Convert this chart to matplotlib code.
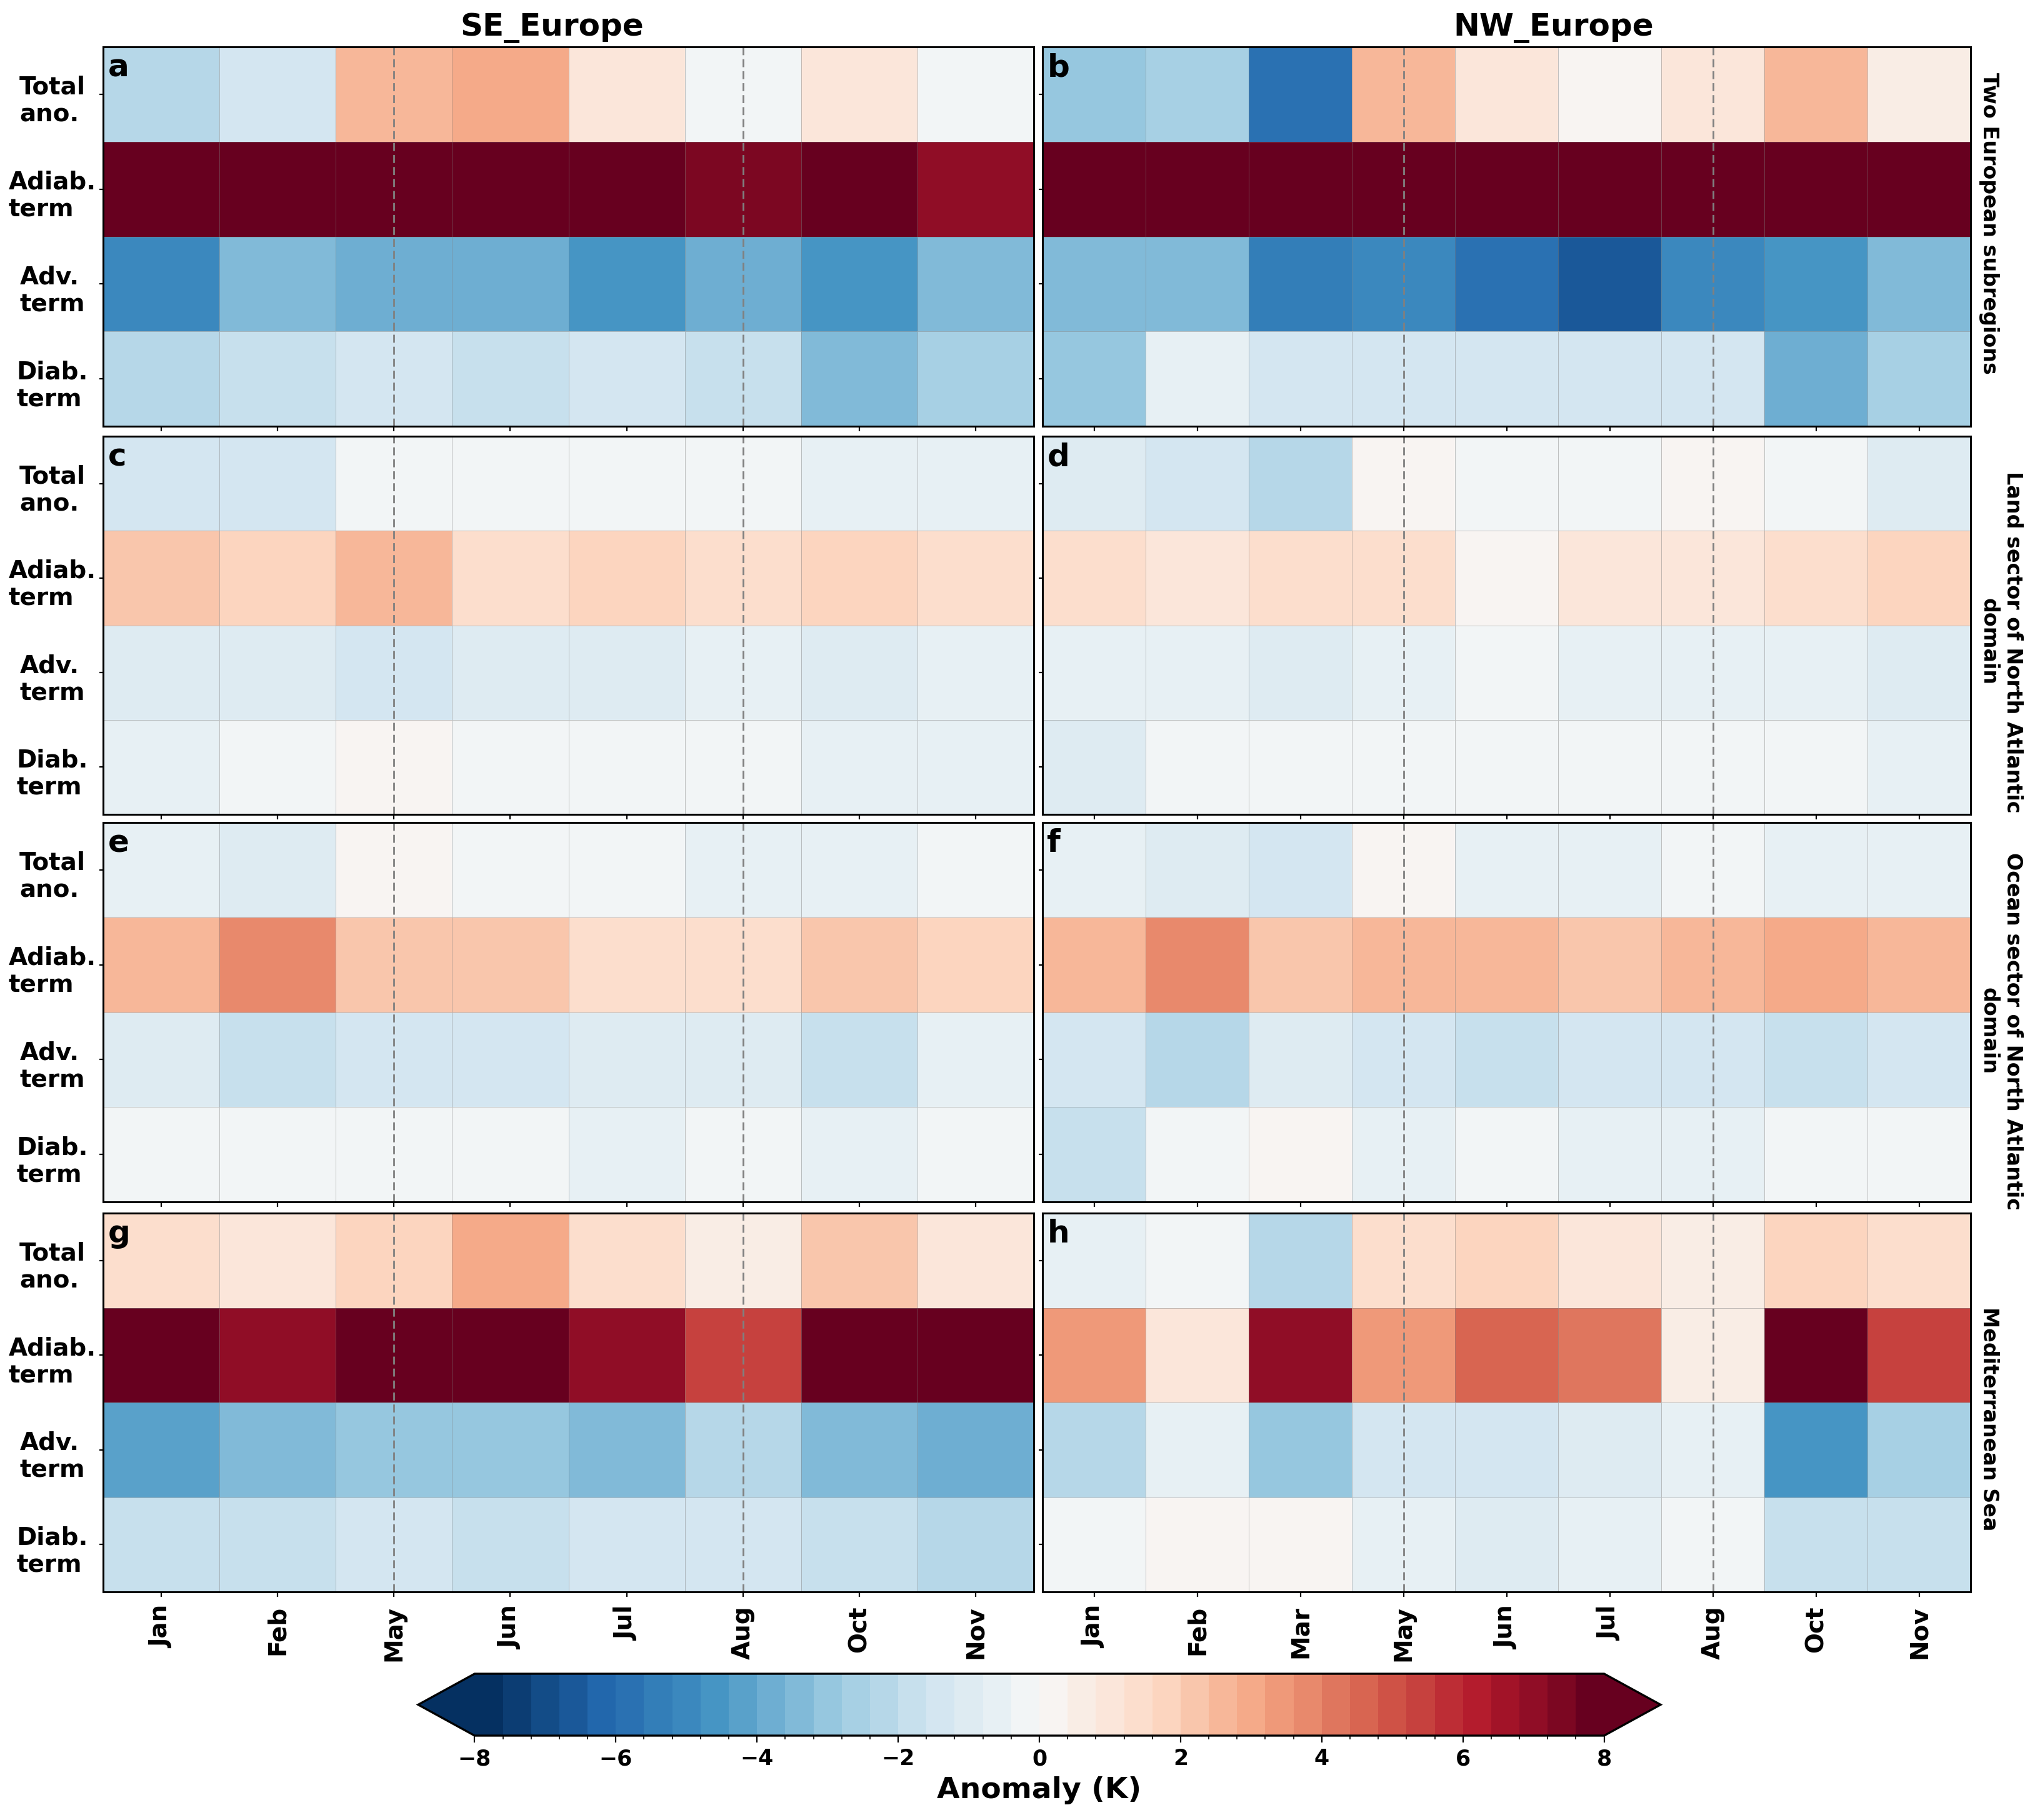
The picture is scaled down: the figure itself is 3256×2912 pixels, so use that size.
import numpy as np
import matplotlib
matplotlib.use("Agg")
import matplotlib.pyplot as plt
import matplotlib.transforms as mtransforms
from matplotlib.colors import BoundaryNorm

# ---------------- data ----------------
se_months = ["Jan", "Feb", "May", "Jun", "Jul", "Aug", "Oct", "Nov"]
nw_months = ["Jan", "Feb", "Mar", "May", "Jun", "Jul", "Aug", "Oct", "Nov"]
row_labels = ["Total\nano.", "Adiab.\nterm", "Adv.\nterm", "Diab.\nterm"]
region_titles = ["SE_Europe", "NW_Europe"]
domain_labels = ["Two European subregions",
                 "Land sector of North Atlantic\ndomain",
                 "Ocean sector of North Atlantic\ndomain",
                 "Mediterranean Sea"]
panel_letters = ["a", "b", "c", "d", "e", "f", "g", "h"]
highlight_months = ["May", "Aug"]
cbar_ticks = [-8, -6, -4, -2, 0, 2, 4, 6, 8]

# (a) SE_Europe, Two European subregions
total_a = [-2.2, -1.4, 2.6, 3.0, 1.0, -0.2, 1.0, -0.2]
adiab_a = [9.0, 9.0, 9.0, 9.0, 9.0, 7.4, 9.0, 7.0]
adv_a = [-5.0, -3.4, -3.8, -3.8, -4.6, -3.8, -4.6, -3.4]
diab_a = [-2.2, -1.8, -1.4, -1.8, -1.4, -1.8, -3.4, -2.6]
# (b) NW_Europe, Two European subregions
total_b = [-3.0, -2.6, -5.9, 2.6, 1.0, 0.2, 1.0, 2.6, 0.6]
adiab_b = [9.0, 9.0, 9.0, 9.0, 9.0, 9.0, 9.0, 9.0, 9.0]
adv_b = [-3.4, -3.4, -5.4, -5.0, -5.8, -6.6, -5.0, -4.6, -3.4]
diab_b = [-3.0, -0.6, -1.4, -1.4, -1.4, -1.4, -1.4, -3.8, -2.6]
# (c) SE_Europe, Land sector
total_c = [-1.4, -1.4, -0.2, -0.2, -0.2, -0.2, -0.6, -0.6]
adiab_c = [2.2, 1.8, 2.6, 1.4, 1.8, 1.4, 1.8, 1.4]
adv_c = [-1.0, -1.0, -1.4, -1.0, -1.0, -0.6, -1.0, -0.6]
diab_c = [-0.6, -0.2, 0.2, -0.2, -0.2, -0.2, -0.6, -0.6]
# (d) NW_Europe, Land sector
total_d = [-1.0, -1.4, -2.2, 0.2, -0.2, -0.2, 0.2, -0.2, -1.0]
adiab_d = [1.4, 1.0, 1.4, 1.4, 0.2, 1.0, 1.0, 1.4, 1.8]
adv_d = [-0.6, -0.6, -1.0, -0.6, -0.2, -0.6, -0.6, -0.6, -1.0]
diab_d = [-1.0, -0.2, -0.2, -0.2, -0.2, -0.2, -0.2, -0.2, -0.6]
# (e) SE_Europe, Ocean sector
total_e = [-0.6, -1.0, 0.2, -0.2, -0.2, -0.6, -0.6, -0.2]
adiab_e = [2.6, 3.8, 2.2, 2.2, 1.4, 1.4, 2.2, 1.8]
adv_e = [-1.0, -1.8, -1.4, -1.4, -1.0, -1.0, -1.8, -0.6]
diab_e = [-0.2, -0.2, -0.2, -0.2, -0.6, -0.2, -0.6, -0.2]
# (f) NW_Europe, Ocean sector
total_f = [-0.6, -1.0, -1.4, 0.2, -0.6, -0.6, -0.2, -0.6, -0.6]
adiab_f = [2.6, 3.8, 2.2, 2.6, 2.6, 2.2, 2.6, 3.0, 2.6]
adv_f = [-1.4, -2.2, -1.0, -1.4, -1.8, -1.4, -1.4, -1.8, -1.4]
diab_f = [-1.8, -0.2, 0.2, -0.6, -0.2, -0.6, -0.6, -0.2, -0.2]
# (g) SE_Europe, Mediterranean Sea
total_g = [1.4, 1.0, 1.8, 3.0, 1.4, 0.6, 2.2, 1.0]
adiab_g = [9.0, 7.0, 9.0, 9.0, 7.0, 5.4, 9.0, 9.0]
adv_g = [-4.2, -3.4, -3.0, -3.0, -3.4, -2.2, -3.4, -3.8]
diab_g = [-1.8, -1.8, -1.4, -1.8, -1.4, -1.4, -1.8, -2.2]
# (h) NW_Europe, Mediterranean Sea
total_h = [-0.6, -0.2, -2.2, 1.4, 1.8, 1.0, 0.6, 1.8, 1.4]
adiab_h = [3.4, 1.0, 7.0, 3.4, 4.6, 4.2, 0.6, 9.0, 5.4]
adv_h = [-2.2, -0.6, -3.0, -1.4, -1.4, -1.0, -0.6, -4.6, -2.6]
diab_h = [-0.2, 0.2, 0.2, -0.6, -1.0, -0.6, -0.2, -1.8, -1.8]

panels = [
    [total_a, adiab_a, adv_a, diab_a], [total_b, adiab_b, adv_b, diab_b],
    [total_c, adiab_c, adv_c, diab_c], [total_d, adiab_d, adv_d, diab_d],
    [total_e, adiab_e, adv_e, diab_e], [total_f, adiab_f, adv_f, diab_f],
    [total_g, adiab_g, adv_g, diab_g], [total_h, adiab_h, adv_h, diab_h],
]
col_months = [se_months, nw_months]

# ---------------- style / layout ----------------
levels = np.linspace(-8, 8, 41)
cmap = plt.get_cmap("RdBu_r")
norm = BoundaryNorm(levels, cmap.N)

W, H = 3256, 2912
fig = plt.figure(figsize=(W / 200, H / 200), dpi=200)

col_x = [(165, 1654), (1668, 3153)]
row_y = [(75, 682), (698, 1303), (1316, 1923), (1941, 2547)]
label_y = [357, 1027, 1650, 2270]

mesh = None
for r in range(4):
    for c in range(2):
        x0, x1 = col_x[c]
        y0, y1 = row_y[r]
        ax = fig.add_axes([x0 / W, 1 - y1 / H, (x1 - x0) / W, (y1 - y0) / H])
        months = col_months[c]
        data = np.array(panels[r * 2 + c], dtype=float)
        n = len(months)
        mesh = ax.pcolormesh(np.arange(n + 1), np.arange(5), data, cmap=cmap, norm=norm,
                             edgecolors=(0.5, 0.5, 0.5, 0.45), linewidth=0.35)
        ax.set_xlim(0, n)
        ax.set_ylim(4, 0)
        for m in highlight_months:
            if m in months:
                ax.axvline(months.index(m) + 0.5, color="gray", lw=1.0,
                           linestyle=(0, (4.6, 2.3)))
        ax.set_xticks(np.arange(n) + 0.5)
        ax.set_yticks(np.arange(4) + 0.5)
        if r == 3:
            ax.set_xticklabels(months, rotation=90, fontsize=14, fontweight="bold")
        else:
            ax.set_xticklabels([])
        ax.set_yticklabels([])
        if c == 0:
            trans = mtransforms.offset_copy(ax.get_yaxis_transform(), fig=fig,
                                            x=-81, y=-11, units="dots")
            for i, lab in enumerate(row_labels):
                ax.text(0, i + 0.5, lab, transform=trans, ha="center", va="center",
                        multialignment="left", fontsize=14, fontweight="bold")
        ax.tick_params(axis="y", length=2.2, pad=0.6, width=0.8)
        ax.tick_params(axis="x", length=3.0, pad=5, width=0.8)
        for s in ax.spines.values():
            s.set_linewidth(1.1)
            s.set_color("black")
        ax.text(0.005, 0.985, panel_letters[r * 2 + c], transform=ax.transAxes,
                ha="left", va="top", fontsize=18, fontweight="bold")
    fig.text(3166 / W, 1 - label_y[r] / H, domain_labels[r], rotation=270, ha="left",
             va="center", fontsize=12, fontweight="bold", multialignment="center")

fig.text(883 / W, 1 - 45 / H, region_titles[0], ha="center", va="center",
         fontsize=18, fontweight="bold")
fig.text(2486 / W, 1 - 45 / H, region_titles[1], ha="center", va="center",
         fontsize=18, fontweight="bold")

cax = fig.add_axes([669 / W, 1 - 2777 / H, (2657 - 669) / W, 99 / H])
cb = fig.colorbar(mesh, cax=cax, orientation="horizontal", extend="both", ticks=cbar_ticks)
cb.ax.xaxis.set_ticks(levels, minor=True)
cb.ax.tick_params(which="major", length=3.8, width=0.8)
cb.ax.tick_params(which="minor", length=2.0, width=0.6)
cb.ax.set_xticklabels([str(v).replace("-", "\u2212") for v in cbar_ticks],
                      fontsize=12.5, fontweight="bold")
cb.set_label("Anomaly (K)", fontsize=17, fontweight="bold")
cb.outline.set_linewidth(1.2)

fig.savefig("out.png", dpi=200)
